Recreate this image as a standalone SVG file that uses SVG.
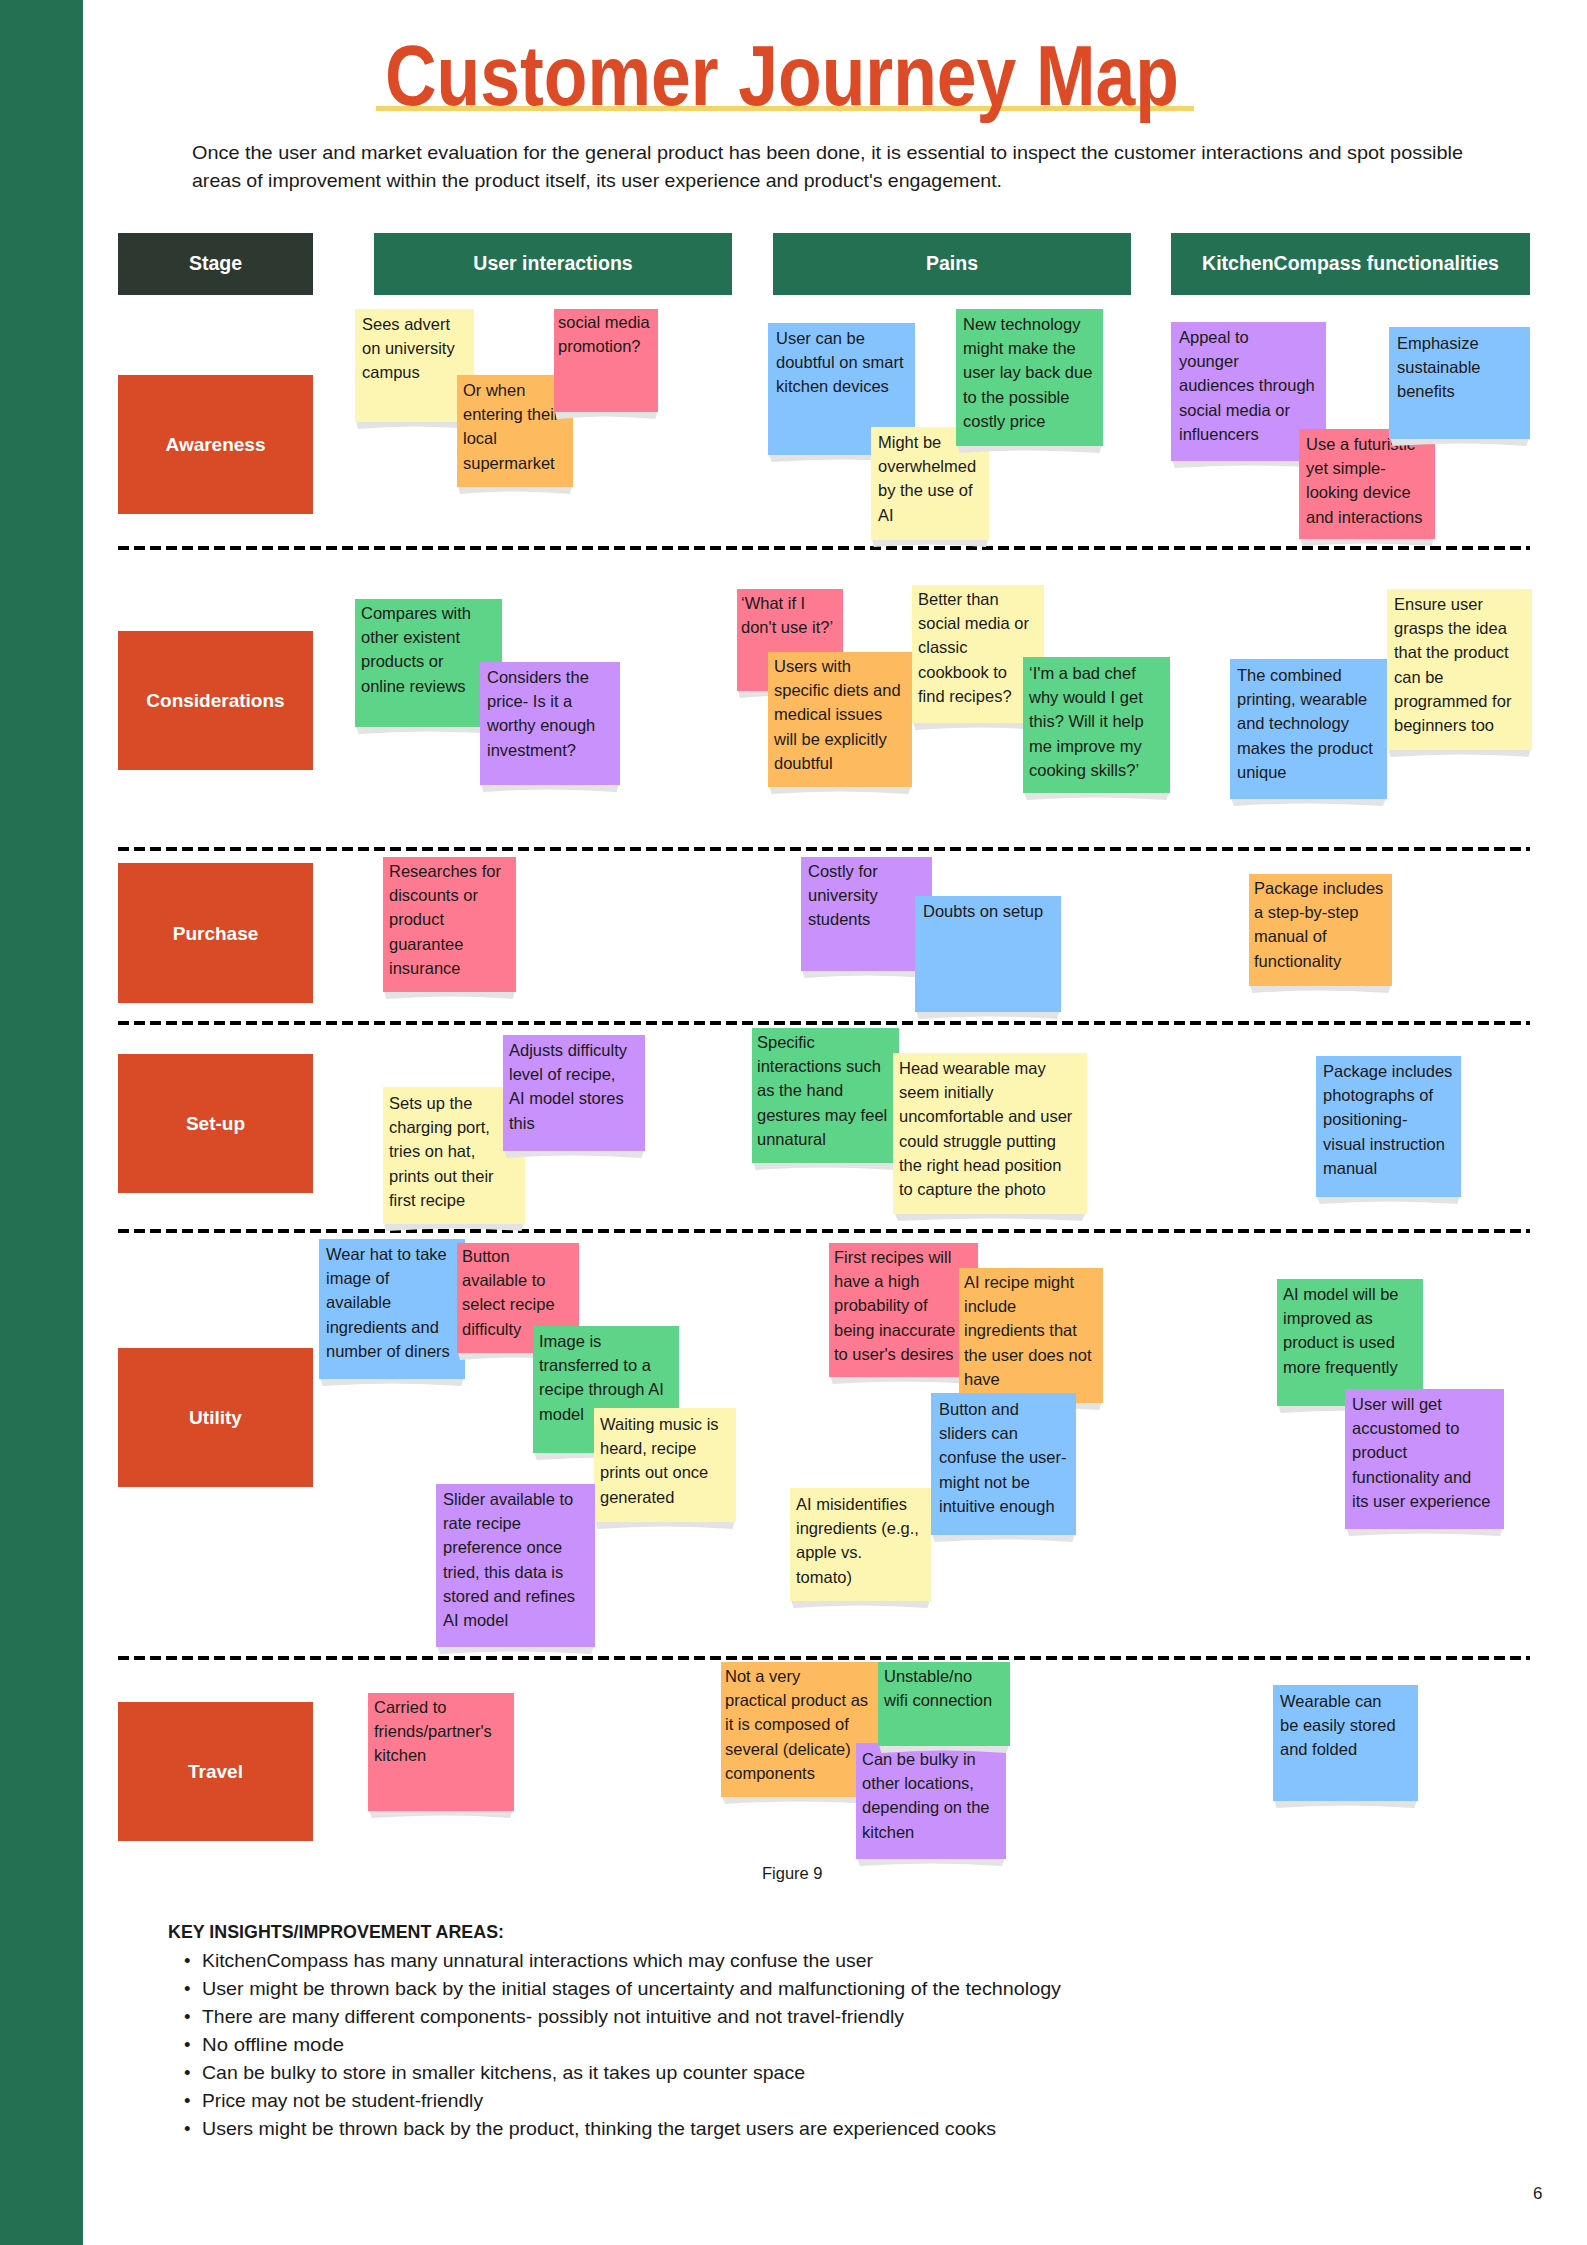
<svg xmlns="http://www.w3.org/2000/svg" xmlns:xlink="http://www.w3.org/1999/xlink" width="1587" height="2245" viewBox="0 0 1587 2245">
<style>
text{font-family:'Liberation Sans',Arial,sans-serif}
.nt{font-size:16.5px;fill:#1a1a1a}
.hd{font-size:19.5px;font-weight:bold;fill:#fff;text-anchor:middle}
.sl{font-size:19px;font-weight:bold;fill:#fff;text-anchor:middle}
.y{fill:#fdf6b2}.o{fill:#feba5e}.p{fill:#fe7a90}.b{fill:#85c3fe}.g{fill:#5dd487}.v{fill:#c891fc}
.hg{fill:#237052}.st{fill:#d94a26}
.dl{stroke:#000;stroke-width:4;stroke-dasharray:11 5;fill:none}
.bl{font-size:18.5px;fill:#1a1a1a}
</style>
<defs>
<path id="sh" d="M0.01,0 L0.99,0 L0.975,7 Q0.5,2 0.025,7 Z" fill="#e3e3e3"/>
</defs>
<rect x="0" y="0" width="1587" height="2245" fill="#fff"/>
<rect x="0" y="0" width="83" height="2245" fill="#237052"/>

<g id="title">
<rect x="376" y="106" width="818" height="5" fill="#f6d365"/>
<text x="385" y="105" font-size="86" font-weight="bold" fill="#dc4a26" textLength="794" lengthAdjust="spacingAndGlyphs">Customer Journey Map</text>
</g>
<g id="intro">
<text class="bl" x="192" y="159" textLength="1271" lengthAdjust="spacingAndGlyphs">Once the user and market evaluation for the general product has been done, it is essential to inspect the customer interactions and spot possible</text>
<text class="bl" x="192" y="187" textLength="810" lengthAdjust="spacingAndGlyphs">areas of improvement within the product itself, its user experience and product's engagement.</text>
</g>

<g id="headers">
<g id="h-stage"><rect x="118" y="233" width="195" height="62" fill="#2d3830"/><text class="hd" x="215.5" y="270">Stage</text></g>
<g id="h-ui"><rect class="hg" x="374" y="233" width="358" height="62"/><text class="hd" x="553" y="270">User interactions</text></g>
<g id="h-pains"><rect class="hg" x="773" y="233" width="358" height="62"/><text class="hd" x="952" y="270">Pains</text></g>
<g id="h-kc"><rect class="hg" x="1171" y="233" width="359" height="62"/><text class="hd" x="1350.5" y="270">KitchenCompass functionalities</text></g>
</g>

<g id="connectors">
<line class="dl" x1="118" y1="548" x2="1530" y2="548"/>
<line class="dl" x1="118" y1="849" x2="1530" y2="849"/>
<line class="dl" x1="118" y1="1023" x2="1530" y2="1023"/>
<line class="dl" x1="118" y1="1231" x2="1530" y2="1231"/>
<line class="dl" x1="118" y1="1658" x2="1530" y2="1658"/>
</g>

<g id="stages">
<g id="s-awareness"><rect class="st" x="118" y="375" width="195" height="139"/><text class="sl" x="215.5" y="451">Awareness</text></g>
<g id="s-considerations"><rect class="st" x="118" y="631" width="195" height="139"/><text class="sl" x="215.5" y="707">Considerations</text></g>
<g id="s-purchase"><rect class="st" x="118" y="863" width="195" height="140"/><text class="sl" x="215.5" y="940">Purchase</text></g>
<g id="s-setup"><rect class="st" x="118" y="1054" width="195" height="139"/><text class="sl" x="215.5" y="1130">Set-up</text></g>
<g id="s-utility"><rect class="st" x="118" y="1348" width="195" height="139"/><text class="sl" x="215.5" y="1424">Utility</text></g>
<g id="s-travel"><rect class="st" x="118" y="1702" width="195" height="139"/><text class="sl" x="215.5" y="1778">Travel</text></g>
</g>

<!-- Awareness -->
<g id="a1"><use href="#sh" transform="translate(355,422) scale(119,1)"/><rect class="y" x="355" y="309" width="119" height="113"/>
<text class="nt" y="330"><tspan x="362">Sees advert</tspan><tspan x="362" dy="24.2">on university</tspan><tspan x="362" dy="24.2">campus</tspan></text></g>
<g id="a2"><use href="#sh" transform="translate(457,487) scale(116,1)"/><rect class="o" x="457" y="375" width="116" height="112"/>
<text class="nt" y="396"><tspan x="463">Or when</tspan><tspan x="463" dy="24.2">entering their</tspan><tspan x="463" dy="24.2">local</tspan><tspan x="463" dy="24.2">supermarket</tspan></text></g>
<g id="a3"><use href="#sh" transform="translate(554,412) scale(104,1)"/><rect class="p" x="554" y="309" width="104" height="103"/>
<text class="nt" y="328"><tspan x="558">social media</tspan><tspan x="558" dy="24.2">promotion?</tspan></text></g>
<g id="a4"><use href="#sh" transform="translate(768,455) scale(147,1)"/><rect class="b" x="768" y="323" width="147" height="132"/>
<text class="nt" y="344"><tspan x="776">User can be</tspan><tspan x="776" dy="24.2">doubtful on smart</tspan><tspan x="776" dy="24.2">kitchen devices</tspan></text></g>
<g id="a5"><use href="#sh" transform="translate(871,540) scale(118,1)"/><rect class="y" x="871" y="427" width="118" height="113"/>
<text class="nt" y="448"><tspan x="878">Might be</tspan><tspan x="878" dy="24.2">overwhelmed</tspan><tspan x="878" dy="24.2">by the use of</tspan><tspan x="878" dy="24.2">AI</tspan></text></g>
<g id="a6"><use href="#sh" transform="translate(956,446) scale(147,1)"/><rect class="g" x="956" y="309" width="147" height="137"/>
<text class="nt" y="330"><tspan x="963">New technology</tspan><tspan x="963" dy="24.2">might make the</tspan><tspan x="963" dy="24.2">user lay back due</tspan><tspan x="963" dy="24.2">to the possible</tspan><tspan x="963" dy="24.2">costly price</tspan></text></g>
<g id="a7"><use href="#sh" transform="translate(1171,461) scale(155,1)"/><rect class="v" x="1171" y="322" width="155" height="139"/>
<text class="nt" y="343"><tspan x="1179">Appeal to</tspan><tspan x="1179" dy="24.2">younger</tspan><tspan x="1179" dy="24.2">audiences through</tspan><tspan x="1179" dy="24.2">social media or</tspan><tspan x="1179" dy="24.2">influencers</tspan></text></g>
<g id="a8"><use href="#sh" transform="translate(1299,539) scale(136,1)"/><rect class="p" x="1299" y="429" width="136" height="110"/>
<text class="nt" y="450"><tspan x="1306">Use a futuristic</tspan><tspan x="1306" dy="24.2">yet simple-</tspan><tspan x="1306" dy="24.2">looking device</tspan><tspan x="1306" dy="24.2">and interactions</tspan></text></g>
<g id="a9"><use href="#sh" transform="translate(1389,439) scale(141,1)"/><rect class="b" x="1389" y="327" width="141" height="112"/>
<text class="nt" y="349"><tspan x="1397">Emphasize</tspan><tspan x="1397" dy="24.2">sustainable</tspan><tspan x="1397" dy="24.2">benefits</tspan></text></g>

<!-- Considerations -->
<g id="c1"><use href="#sh" transform="translate(355,727) scale(147,1)"/><rect class="g" x="355" y="599" width="147" height="128"/>
<text class="nt" y="619"><tspan x="361">Compares with</tspan><tspan x="361" dy="24.2">other existent</tspan><tspan x="361" dy="24.2">products or</tspan><tspan x="361" dy="24.2">online reviews</tspan></text></g>
<g id="c2"><use href="#sh" transform="translate(480,785) scale(140,1)"/><rect class="v" x="480" y="662" width="140" height="123"/>
<text class="nt" y="683"><tspan x="487">Considers the</tspan><tspan x="487" dy="24.2">price- Is it a</tspan><tspan x="487" dy="24.2">worthy enough</tspan><tspan x="487" dy="24.2">investment?</tspan></text></g>
<g id="c3"><use href="#sh" transform="translate(737,691) scale(106,1)"/><rect class="p" x="737" y="589" width="106" height="102"/>
<text class="nt" y="609"><tspan x="741">‘What if I</tspan><tspan x="741" dy="24.2">don't use it?’</tspan></text></g>
<g id="c4"><use href="#sh" transform="translate(768,787) scale(144,1)"/><rect class="o" x="768" y="652" width="144" height="135"/>
<text class="nt" y="672"><tspan x="774">Users with</tspan><tspan x="774" dy="24.2">specific diets and</tspan><tspan x="774" dy="24.2">medical issues</tspan><tspan x="774" dy="24.2">will be explicitly</tspan><tspan x="774" dy="24.2">doubtful</tspan></text></g>
<g id="c5"><use href="#sh" transform="translate(912,723) scale(132,1)"/><rect class="y" x="912" y="585" width="132" height="138"/>
<text class="nt" y="605"><tspan x="918">Better than</tspan><tspan x="918" dy="24.2">social media or</tspan><tspan x="918" dy="24.2">classic</tspan><tspan x="918" dy="24.2">cookbook to</tspan><tspan x="918" dy="24.2">find recipes?</tspan></text></g>
<g id="c6"><use href="#sh" transform="translate(1023,793) scale(147,1)"/><rect class="g" x="1023" y="657" width="147" height="136"/>
<text class="nt" y="679"><tspan x="1029">‘I'm a bad chef</tspan><tspan x="1029" dy="24.2">why would I get</tspan><tspan x="1029" dy="24.2">this? Will it help</tspan><tspan x="1029" dy="24.2">me improve my</tspan><tspan x="1029" dy="24.2">cooking skills?’</tspan></text></g>
<g id="c7"><use href="#sh" transform="translate(1230,799) scale(157,1)"/><rect class="b" x="1230" y="659" width="157" height="140"/>
<text class="nt" y="681"><tspan x="1237">The combined</tspan><tspan x="1237" dy="24.2">printing, wearable</tspan><tspan x="1237" dy="24.2">and technology</tspan><tspan x="1237" dy="24.2">makes the product</tspan><tspan x="1237" dy="24.2">unique</tspan></text></g>
<g id="c8"><use href="#sh" transform="translate(1387,750) scale(145,1)"/><rect class="y" x="1387" y="589" width="145" height="161"/>
<text class="nt" y="610"><tspan x="1394">Ensure user</tspan><tspan x="1394" dy="24.2">grasps the idea</tspan><tspan x="1394" dy="24.2">that the product</tspan><tspan x="1394" dy="24.2">can be</tspan><tspan x="1394" dy="24.2">programmed for</tspan><tspan x="1394" dy="24.2">beginners too</tspan></text></g>

<!-- Purchase -->
<g id="p1"><use href="#sh" transform="translate(383,992) scale(133,1)"/><rect class="p" x="383" y="857" width="133" height="135"/>
<text class="nt" y="877"><tspan x="389">Researches for</tspan><tspan x="389" dy="24.2">discounts or</tspan><tspan x="389" dy="24.2">product</tspan><tspan x="389" dy="24.2">guarantee</tspan><tspan x="389" dy="24.2">insurance</tspan></text></g>
<g id="p2"><use href="#sh" transform="translate(801,971) scale(131,1)"/><rect class="v" x="801" y="857" width="131" height="114"/>
<text class="nt" y="877"><tspan x="808">Costly for</tspan><tspan x="808" dy="24.2">university</tspan><tspan x="808" dy="24.2">students</tspan></text></g>
<g id="p3"><use href="#sh" transform="translate(915,1012) scale(146,1)"/><rect class="b" x="915" y="896" width="146" height="116"/>
<text class="nt" y="917"><tspan x="923">Doubts on setup</tspan></text></g>
<g id="p4"><use href="#sh" transform="translate(1249,986) scale(143,1)"/><rect class="o" x="1249" y="874" width="143" height="112"/>
<text class="nt" y="894"><tspan x="1254">Package includes</tspan><tspan x="1254" dy="24.2">a step-by-step</tspan><tspan x="1254" dy="24.2">manual of</tspan><tspan x="1254" dy="24.2">functionality</tspan></text></g>

<!-- Set-up -->
<g id="su1"><use href="#sh" transform="translate(383,1224) scale(142,1)"/><rect class="y" x="383" y="1087" width="142" height="137"/>
<text class="nt" y="1109"><tspan x="389">Sets up the</tspan><tspan x="389" dy="24.2">charging port,</tspan><tspan x="389" dy="24.2">tries on hat,</tspan><tspan x="389" dy="24.2">prints out their</tspan><tspan x="389" dy="24.2">first recipe</tspan></text></g>
<g id="su2"><use href="#sh" transform="translate(503,1151) scale(142,1)"/><rect class="v" x="503" y="1035" width="142" height="116"/>
<text class="nt" y="1056"><tspan x="509">Adjusts difficulty</tspan><tspan x="509" dy="24.2">level of recipe,</tspan><tspan x="509" dy="24.2">AI model stores</tspan><tspan x="509" dy="24.2">this</tspan></text></g>
<g id="su3"><use href="#sh" transform="translate(752,1163) scale(147,1)"/><rect class="g" x="752" y="1028" width="147" height="135"/>
<text class="nt" y="1048"><tspan x="757">Specific</tspan><tspan x="757" dy="24.2">interactions such</tspan><tspan x="757" dy="24.2">as the hand</tspan><tspan x="757" dy="24.2">gestures may feel</tspan><tspan x="757" dy="24.2">unnatural</tspan></text></g>
<g id="su4"><use href="#sh" transform="translate(893,1214) scale(194,1)"/><rect class="y" x="893" y="1053" width="194" height="161"/>
<text class="nt" y="1074"><tspan x="899">Head wearable may</tspan><tspan x="899" dy="24.2">seem initially</tspan><tspan x="899" dy="24.2">uncomfortable and user</tspan><tspan x="899" dy="24.2">could struggle putting</tspan><tspan x="899" dy="24.2">the right head position</tspan><tspan x="899" dy="24.2">to capture the photo</tspan></text></g>
<g id="su5"><use href="#sh" transform="translate(1316,1197) scale(145,1)"/><rect class="b" x="1316" y="1056" width="145" height="141"/>
<text class="nt" y="1077"><tspan x="1323">Package includes</tspan><tspan x="1323" dy="24.2">photographs of</tspan><tspan x="1323" dy="24.2">positioning-</tspan><tspan x="1323" dy="24.2">visual instruction</tspan><tspan x="1323" dy="24.2">manual</tspan></text></g>

<!-- Utility -->
<g id="u1"><use href="#sh" transform="translate(319,1379) scale(146,1)"/><rect class="b" x="319" y="1239" width="146" height="140"/>
<text class="nt" y="1260"><tspan x="326">Wear hat to take</tspan><tspan x="326" dy="24.2">image of</tspan><tspan x="326" dy="24.2">available</tspan><tspan x="326" dy="24.2">ingredients and</tspan><tspan x="326" dy="24.2">number of diners</tspan></text></g>
<g id="u2"><use href="#sh" transform="translate(457,1353) scale(122,1)"/><rect class="p" x="457" y="1243" width="122" height="110"/>
<text class="nt" y="1262"><tspan x="462">Button</tspan><tspan x="462" dy="24.2">available to</tspan><tspan x="462" dy="24.2">select recipe</tspan><tspan x="462" dy="24.2">difficulty</tspan></text></g>
<g id="u3"><use href="#sh" transform="translate(533,1453) scale(146,1)"/><rect class="g" x="533" y="1326" width="146" height="127"/>
<text class="nt" y="1347"><tspan x="539">Image is</tspan><tspan x="539" dy="24.2">transferred to a</tspan><tspan x="539" dy="24.2">recipe through AI</tspan><tspan x="539" dy="24.2">model</tspan></text></g>
<g id="u4"><use href="#sh" transform="translate(594,1522) scale(142,1)"/><rect class="y" x="594" y="1408" width="142" height="114"/>
<text class="nt" y="1430"><tspan x="600">Waiting music is</tspan><tspan x="600" dy="24.2">heard, recipe</tspan><tspan x="600" dy="24.2">prints out once</tspan><tspan x="600" dy="24.2">generated</tspan></text></g>
<g id="u5"><use href="#sh" transform="translate(436,1647) scale(159,1)"/><rect class="v" x="436" y="1484" width="159" height="163"/>
<text class="nt" y="1505"><tspan x="443">Slider available to</tspan><tspan x="443" dy="24.2">rate recipe</tspan><tspan x="443" dy="24.2">preference once</tspan><tspan x="443" dy="24.2">tried, this data is</tspan><tspan x="443" dy="24.2">stored and refines</tspan><tspan x="443" dy="24.2">AI model</tspan></text></g>
<g id="u6"><use href="#sh" transform="translate(829,1377) scale(149,1)"/><rect class="p" x="829" y="1243" width="149" height="134"/>
<text class="nt" y="1263"><tspan x="834">First recipes will</tspan><tspan x="834" dy="24.2">have a high</tspan><tspan x="834" dy="24.2">probability of</tspan><tspan x="834" dy="24.2">being inaccurate</tspan><tspan x="834" dy="24.2">to user's desires</tspan></text></g>
<g id="u7"><use href="#sh" transform="translate(959,1403) scale(144,1)"/><rect class="o" x="959" y="1268" width="144" height="135"/>
<text class="nt" y="1288"><tspan x="964">AI recipe might</tspan><tspan x="964" dy="24.2">include</tspan><tspan x="964" dy="24.2">ingredients that</tspan><tspan x="964" dy="24.2">the user does not</tspan><tspan x="964" dy="24.2">have</tspan></text></g>
<g id="u8"><use href="#sh" transform="translate(931,1535) scale(145,1)"/><rect class="b" x="931" y="1393" width="145" height="142"/>
<text class="nt" y="1415"><tspan x="939">Button and</tspan><tspan x="939" dy="24.2">sliders can</tspan><tspan x="939" dy="24.2">confuse the user-</tspan><tspan x="939" dy="24.2">might not be</tspan><tspan x="939" dy="24.2">intuitive enough</tspan></text></g>
<g id="u9"><use href="#sh" transform="translate(790,1601) scale(141,1)"/><rect class="y" x="790" y="1488" width="141" height="113"/>
<text class="nt" y="1510"><tspan x="796">AI misidentifies</tspan><tspan x="796" dy="24.2">ingredients (e.g.,</tspan><tspan x="796" dy="24.2">apple vs.</tspan><tspan x="796" dy="24.2">tomato)</tspan></text></g>
<g id="u10"><use href="#sh" transform="translate(1277,1406) scale(146,1)"/><rect class="g" x="1277" y="1279" width="146" height="127"/>
<text class="nt" y="1300"><tspan x="1283">AI model will be</tspan><tspan x="1283" dy="24.2">improved as</tspan><tspan x="1283" dy="24.2">product is used</tspan><tspan x="1283" dy="24.2">more frequently</tspan></text></g>
<g id="u11"><use href="#sh" transform="translate(1345,1529) scale(159,1)"/><rect class="v" x="1345" y="1389" width="159" height="140"/>
<text class="nt" y="1410"><tspan x="1352">User will get</tspan><tspan x="1352" dy="24.2">accustomed to</tspan><tspan x="1352" dy="24.2">product</tspan><tspan x="1352" dy="24.2">functionality and</tspan><tspan x="1352" dy="24.2">its user experience</tspan></text></g>

<!-- Travel -->
<g id="t1"><use href="#sh" transform="translate(368,1811) scale(146,1)"/><rect class="p" x="368" y="1693" width="146" height="118"/>
<text class="nt" y="1713"><tspan x="374">Carried to</tspan><tspan x="374" dy="24.2">friends/partner's</tspan><tspan x="374" dy="24.2">kitchen</tspan></text></g>
<g id="t2"><use href="#sh" transform="translate(721,1797) scale(159,1)"/><rect class="o" x="721" y="1662" width="159" height="135"/>
<text class="nt" y="1682"><tspan x="725">Not a very</tspan><tspan x="725" dy="24.2">practical product as</tspan><tspan x="725" dy="24.2">it is composed of</tspan><tspan x="725" dy="24.2">several (delicate)</tspan><tspan x="725" dy="24.2">components</tspan></text></g>
<g id="t3"><use href="#sh" transform="translate(856,1859) scale(150,1)"/><rect class="v" x="856" y="1743" width="150" height="116"/>
<text class="nt" y="1765"><tspan x="862">Can be bulky in</tspan><tspan x="862" dy="24.2">other locations,</tspan><tspan x="862" dy="24.2">depending on the</tspan><tspan x="862" dy="24.2">kitchen</tspan></text></g>
<g id="t4"><use href="#sh" transform="translate(878,1746) scale(132,1)"/><rect class="g" x="878" y="1662" width="132" height="84"/>
<text class="nt" y="1682"><tspan x="884">Unstable/no</tspan><tspan x="884" dy="24.2">wifi connection</tspan></text></g>
<g id="t5"><use href="#sh" transform="translate(1273,1801) scale(145,1)"/><rect class="b" x="1273" y="1685" width="145" height="116"/>
<text class="nt" y="1707"><tspan x="1280">Wearable can</tspan><tspan x="1280" dy="24.2">be easily stored</tspan><tspan x="1280" dy="24.2">and folded</tspan></text></g>

<g id="caption"><text x="762" y="1879" font-size="16.5" fill="#1a1a1a">Figure 9</text></g>

<g id="insights">
<text x="168" y="1938" font-size="18.5" font-weight="bold" fill="#1a1a1a" textLength="336" lengthAdjust="spacingAndGlyphs">KEY INSIGHTS/IMPROVEMENT AREAS:</text>
<text class="bl" x="184" y="1967">•</text><text class="bl" x="202" y="1967" textLength="671" lengthAdjust="spacingAndGlyphs">KitchenCompass has many unnatural interactions which may confuse the user</text>
<text class="bl" x="184" y="1995">•</text><text class="bl" x="202" y="1995" textLength="859" lengthAdjust="spacingAndGlyphs">User might be thrown back by the initial stages of uncertainty and malfunctioning of the technology</text>
<text class="bl" x="184" y="2023">•</text><text class="bl" x="202" y="2023" textLength="702" lengthAdjust="spacingAndGlyphs">There are many different components- possibly not intuitive and not travel-friendly</text>
<text class="bl" x="184" y="2051">•</text><text class="bl" x="202" y="2051" textLength="142" lengthAdjust="spacingAndGlyphs">No offline mode</text>
<text class="bl" x="184" y="2079">•</text><text class="bl" x="202" y="2079" textLength="603" lengthAdjust="spacingAndGlyphs">Can be bulky to store in smaller kitchens, as it takes up counter space</text>
<text class="bl" x="184" y="2107">•</text><text class="bl" x="202" y="2107" textLength="281" lengthAdjust="spacingAndGlyphs">Price may not be student-friendly</text>
<text class="bl" x="184" y="2135">•</text><text class="bl" x="202" y="2135" textLength="794" lengthAdjust="spacingAndGlyphs">Users might be thrown back by the product, thinking the target users are experienced cooks</text>
</g>
<text x="1533" y="2199" font-size="17" fill="#1a1a1a">6</text>
</svg>
